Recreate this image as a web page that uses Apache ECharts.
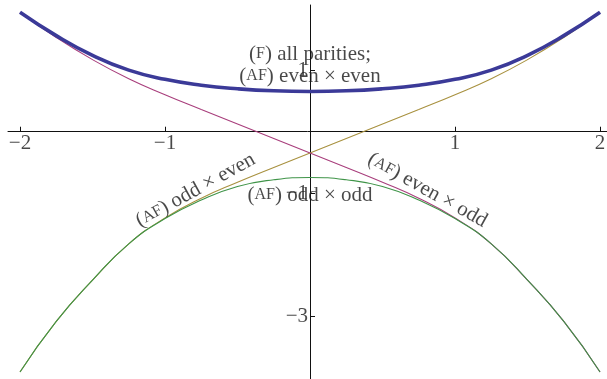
<!DOCTYPE html>
<html>
<head>
<meta charset="utf-8">
<script src="https://cdn.jsdelivr.net/npm/echarts@6/dist/echarts.min.js"></script>
<style>
  html, body { margin: 0; padding: 0; background: #fff; }
  #chart { width: 607px; height: 379px; }
</style>
</head>
<body>
<div id="chart"></div>
<script>
// Band energies sampled on the parameter axis
const xs = [-2, -1.75, -1.5, -1.25, -1, -0.75, -0.5, -0.25, 0, 0.25, 0.5, 0.75, 1, 1.25, 1.5, 1.75, 2];

// (F) all parities; (AF) even x even
const bandEvenEven = [1.94, 1.56, 1.24, 1.0, 0.85, 0.755, 0.697, 0.664, 0.654, 0.664, 0.697, 0.755, 0.85, 1.0, 1.24, 1.56, 1.94];
// (AF) odd x even
const bandOddEven = [-3.90, -3.08, -2.41, -1.82, -1.40, -1.08, -0.82, -0.58, -0.346, -0.11, 0.125, 0.36, 0.60, 0.86, 1.17, 1.53, 1.94];
// (AF) even x odd
const bandEvenOdd = [1.94, 1.53, 1.17, 0.86, 0.60, 0.36, 0.125, -0.11, -0.346, -0.58, -0.82, -1.08, -1.40, -1.82, -2.41, -3.08, -3.90];
// (AF) odd x odd
const bandOddOdd = [-3.90, -3.08, -2.41, -1.82, -1.41, -1.11, -0.89, -0.78, -0.742, -0.78, -0.89, -1.11, -1.41, -1.82, -2.41, -3.08, -3.90];

const xTicks = [-2, -1, 1, 2];
const yTicks = [1, -1, -3];

const pairs = (ys) => xs.map((x, i) => [x, ys[i]]);
const minus = (v) => String(v).replace('-', '\u2212');

const serif = '"Liberation Serif", "DejaVu Serif", serif';
const ink = '#1a1a1a';
const rich = {
  n: { fontFamily: serif, fontSize: 21, color: ink },
  sc: { fontFamily: serif, fontSize: 16, color: ink }
};

function textSeries(x, y, text, rotate) {
  return {
    type: 'scatter',
    data: [[x, y]],
    symbolSize: 0,
    silent: true,
    z: 5,
    label: {
      show: true,
      position: 'inside',
      rotate: rotate,
      formatter: text,
      rich: rich,
      lineHeight: 22
    }
  };
}

// Tick labels placed next to the crossing axes
function tickLabelSeries(points, position, distance) {
  return {
    type: 'scatter',
    data: points.map(p => ({ value: p.value, label: { formatter: p.text } })),
    symbolSize: 0,
    silent: true,
    z: 4,
    label: {
      show: true,
      position: position,
      distance: distance,
      fontFamily: serif,
      fontSize: 21,
      color: ink
    }
  };
}

const thin = (data, color) => ({
  type: 'line', data: data, smooth: 0.5, showSymbol: false,
  lineStyle: { color: color, width: 1.1 }, z: 2
});

const chart = echarts.init(document.getElementById('chart'));
chart.setOption({
  animation: false,
  backgroundColor: '#fff',
  grid: { left: 8, right: 0, top: 5, bottom: 0, containLabel: false, outerBoundsMode: 'none' },
  xAxis: {
    type: 'value',
    min: -2.0828,
    max: 2.048,
    axisLine: { onZero: true, lineStyle: { color: '#111', width: 1 } },
    axisTick: { show: true, inside: true, length: 5, customValues: xTicks, lineStyle: { color: '#111' } },
    axisLabel: { show: false },
    splitLine: { show: false }
  },
  yAxis: {
    type: 'value',
    min: -4.014,
    max: 2.057,
    axisLine: { onZero: true, lineStyle: { color: '#111', width: 1 } },
    axisTick: { show: true, inside: true, length: 5, customValues: yTicks, lineStyle: { color: '#111' } },
    axisLabel: { show: false },
    splitLine: { show: false }
  },
  series: [
    thin(pairs(bandOddEven), '#a8913f'),
    thin(pairs(bandEvenOdd), '#a83e7c'),
    thin(pairs(bandOddOdd), '#3f9448'),
    { type: 'line', data: pairs(bandEvenEven), smooth: 0.5, showSymbol: false, lineStyle: { color: '#3b3a98', width: 3.6 }, z: 3 },
    tickLabelSeries(xTicks.map(v => ({ value: [v, 0], text: minus(v) })), 'bottom', 1),
    tickLabelSeries(yTicks.map(v => ({ value: [0, v], text: minus(v) })), 'left', 2),
    textSeries(0, 1.08, '{n|(}{sc|F}{n|) all parities;}\n{n|(}{sc|AF}{n|) even \u00d7 even}', 0),
    textSeries(0, -1.03, '{n|(}{sc|AF}{n|) odd \u00d7 odd}', 0),
    textSeries(-0.79, -0.95, '{n|(}{sc|AF}{n|) odd \u00d7 even}', 29),
    textSeries(0.81, -0.95, '{n|(}{sc|AF}{n|) even \u00d7 odd}', -29)
  ]
});
</script>
</body>
</html>
